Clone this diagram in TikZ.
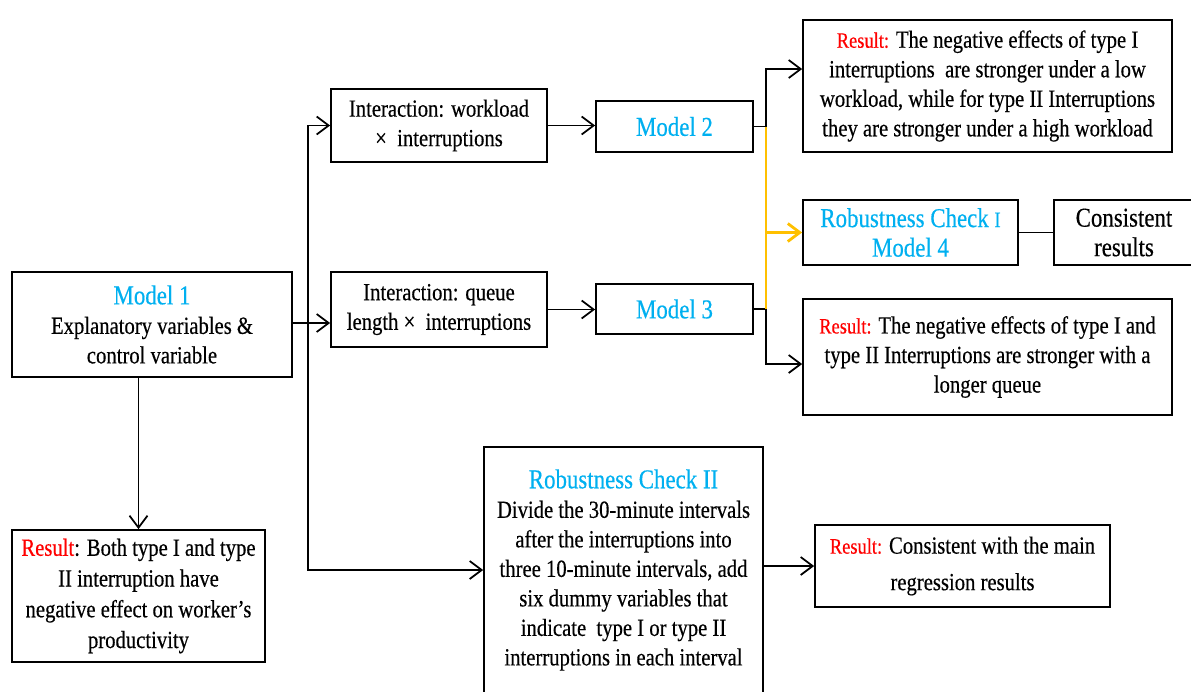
\documentclass[tikz,border=0pt]{standalone}
\usepackage{fontspec}
\setmainfont{Liberation Serif}[FakeStretch=0.84, FakeBold=0.4]
\usetikzlibrary{arrows.meta}
\definecolor{ttlblue}{RGB}{0,176,240}
\definecolor{linkyellow}{RGB}{255,192,0}
\newcommand\ttl[1]{{\color{ttlblue}\fontsize{15.5}{16.8}\selectfont #1}}
\newcommand\rlab[1]{{\color{red}\fontsize{12.5}{16.8}\selectfont #1}}
\tikzset{
  box/.style={draw, line width=1pt, align=center, inner sep=2pt,
    font=\fontsize{14}{16.8}\selectfont},
  arr/.style={-{Straight Barb[length=2.4mm,width=3.6mm]}},
  link/.style={line width=1pt},
}
\begin{document}
        \begin{tikzpicture}[x=0.02cm, y=-0.02cm]
            \useasboundingbox (0,0) rectangle (1191,691);

            \node[box, minimum width=5.6cm, minimum height=2.1cm] (m1) at (152,324.5)
                {\ttl{Model 1}\\ Explanatory variables \&\\ control variable};
            \node[box, minimum width=4.32cm, minimum height=1.46cm] (iw) at (439,125.5)
                {Interaction: workload\\ ×~ interruptions};
            \node[box, minimum width=4.32cm, minimum height=1.5cm] (iq) at (439,309.5)
                {Interaction: queue\\ length ×~ interruptions};
            \node[box, minimum width=3.14cm, minimum height=1.02cm] (m2) at (674.5,126.5) {\ttl{Model 2}};
            \node[box, minimum width=3.14cm, minimum height=1.0cm] (m3) at (674.5,309) {\ttl{Model 3}};
            \node[box, minimum width=7.38cm, minimum height=2.64cm] (r2) at (987.5,86)
                {\rlab{Result:} The negative effects of type I\\ interruptions~ are stronger under a low\\
                 workload, while for type II Interruptions\\ they are stronger under a high workload};
            \node[box, minimum width=4.3cm, minimum height=1.3cm] (rc1) at (910.5,232.5)
                {\ttl{Robustness Check {\fontsize{12.5}{16.8}\selectfont I}}\\ \ttl{Model 4}};
            \node[box, minimum width=2.8cm, minimum height=1.3cm, font=\fontsize{15.5}{16.8}\selectfont] (cons) at (1124,232.5)
                {Consistent\\ results};
            \node[box, minimum width=7.38cm, minimum height=2.32cm] (r3) at (987.5,357)
                {\rlab{Result:} The negative effects of type I and\\ type II Interruptions are stronger with a\\ longer queue};
            \node[box, minimum width=5.58cm, minimum height=4.92cm] (rc2) at (623.5,570)
                {\ttl{Robustness Check II}\\ Divide the 30-minute intervals\\ after the interruptions into\\
                 three 10-minute intervals, add\\ six dummy variables that\\ indicate~ type I or type II\\
                 interruptions in each interval};
            \node[box, minimum width=5.9cm, minimum height=1.64cm, font=\fontsize{14}{20.8}\selectfont] (r4) at (962.5,566)
                {\rlab{Result:} Consistent with the main\\ regression results};
            \node[box, minimum width=5.06cm, minimum height=2.64cm, font=\fontsize{14}{17.5}\selectfont] (r1) at (138.5,596)
                {{\color{red}Result}: Both type I and type\\ II interruption have\\ negative effect on worker's\\ productivity};

            \coordinate (sp) at (308,323);
            \coordinate (j2) at (766,126.5);
            \coordinate (j3) at (766,309);

            \draw[link, arr] (m1.east |- sp) -- (sp -| iq.west);
            \draw[link, arr] (sp) |- (iw.west);
            \draw[link, arr] (sp) |- (rc2.west);
            \draw[link, arr] (r1.north |- m1.south) -- (r1.north);
            \draw[link, arr] (iw.east) -- (iw.east -| m2.west);
            \draw[link, arr] (iq.east) -- (iq.east -| m3.west);
            \draw[link] (m2.east) -- (j2);
            \draw[link] (m3.east) -- (j3);
            \draw[link, arr] (j2) |- ([yshift=0.34cm]r2.west);
            \draw[link, arr] (j3) |- ([yshift=-0.14cm]r3.west);
            \draw[link, linkyellow, line width=1.6pt] (j2) -- (j3);
            \draw[link, linkyellow, line width=1.6pt, arr] (j2 |- rc1.west) -- (rc1.west);
            \draw[link] (rc1.east) -- (cons.west);
            \draw[link, arr] (r4.west -| rc2.east) -- (r4.west);
        \end{tikzpicture}
\end{document}
